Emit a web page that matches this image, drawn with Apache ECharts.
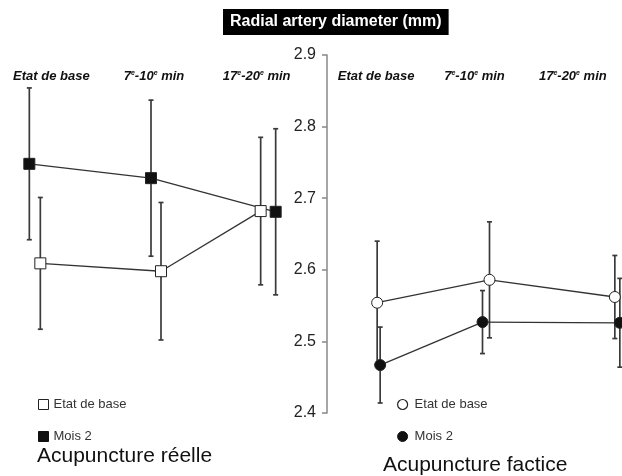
<!DOCTYPE html>
<html>
<head>
<meta charset="utf-8">
<script src="https://cdn.jsdelivr.net/npm/echarts@6/dist/echarts.min.js"></script>
<style>
  html, body { margin: 0; padding: 0; background: #fff; }
  #chart { width: 622px; height: 476px; }
</style>
</head>
<body>
<div id="chart"></div>
<script>
// categories (time points)
const categories = ['Etat de base', '7{s|e}-10{s|e} min', '17{s|e}-20{s|e} min'];
const yTicks = [2.4, 2.5, 2.6, 2.7, 2.8, 2.9];

// Acupuncture réelle
const reelleBase = [2.609, 2.598, 2.682];
const reelleBaseErr = [0.092, 0.096, 0.103];
const reelleMois2 = [2.748, 2.728, 2.681];
const reelleMois2Err = [0.106, 0.109, 0.116];

// Acupuncture factice
const facticeBase = [2.554, 2.586, 2.562];
const facticeBaseErr = [0.086, 0.081, 0.058];
const facticeMois2 = [2.467, 2.527, 2.526];
const facticeMois2Err = [0.053, 0.044, 0.062];

// horizontal nudges (px) so the two groups don't sit on top of each other
const nudge = {
  reelleBase: [-11, 7, 4],
  reelleMois2: [-22, -3, 19],
  facticeBase: [1, 15, 42],
  facticeMois2: [4, 8, 47]
};

const FONT = 'Liberation Sans, Arial, sans-serif';

function errSeries(name, grid, vals, errs, dx, shape, fill) {
  return {
    type: 'custom',
    name: name,
    xAxisIndex: grid,
    yAxisIndex: grid,
    encode: { x: 0, y: 1 },
    data: vals.map((v, i) => [i, v, errs[i]]),
    renderItem: function (params, api) {
      const i = params.dataIndex;
      const v = api.value(1), e = api.value(2);
      const c = api.coord([i, v]);
      const x = c[0] + dx[i], y = c[1];
      const yTop = api.coord([i, v + e])[1];
      const yBot = api.coord([i, v - e])[1];
      const kids = [];
      const barStyle = { stroke: '#3a3a3a', lineWidth: 1.7 };
      kids.push({ type: 'line', shape: { x1: x, y1: yTop, x2: x, y2: yBot }, style: barStyle, z2: 1 });
      kids.push({ type: 'line', shape: { x1: x - 2.5, y1: yTop, x2: x + 2.5, y2: yTop }, style: barStyle, z2: 1 });
      kids.push({ type: 'line', shape: { x1: x - 2.5, y1: yBot, x2: x + 2.5, y2: yBot }, style: barStyle, z2: 1 });
      if (i < vals.length - 1) {
        const n = api.coord([i + 1, vals[i + 1]]);
        kids.push({
          type: 'line',
          shape: { x1: x, y1: y, x2: n[0] + dx[i + 1], y2: n[1] },
          style: { stroke: '#333', lineWidth: 1.3 },
          z2: 2
        });
      }
      const mStyle = { fill: fill, stroke: '#222', lineWidth: 1 };
      if (shape === 'rect') {
        kids.push({ type: 'rect', shape: { x: x - 5.5, y: y - 5.5, width: 11, height: 11 }, style: mStyle, z2: 10 });
      } else {
        kids.push({ type: 'circle', shape: { cx: x, cy: y, r: 5.5 }, style: mStyle, z2: 10 });
      }
      return { type: 'group', children: kids };
    }
  };
}

const chart = echarts.init(document.getElementById('chart'));

const catAxis = (grid) => ({
  type: 'category',
  gridIndex: grid,
  position: 'top',
  offset: -30,
  data: categories,
  axisLine: { show: false },
  axisTick: { show: false },
  axisLabel: {
    interval: 0,
    margin: 2,
    color: '#111',
    fontFamily: FONT,
    fontSize: 13,
    fontStyle: 'italic',
    fontWeight: 'bold',
    rich: {
      s: { fontSize: 7, fontStyle: 'italic', fontWeight: 'bold', color: '#111', fontFamily: FONT, verticalAlign: 'top', padding: [0, 0, 6, 0] }
    }
  }
});

const valAxis = (grid, visible) => ({
  type: 'value',
  gridIndex: grid,
  min: yTicks[0],
  max: yTicks[yTicks.length - 1],
  interval: 0.1,
  show: visible,
  splitLine: { show: false },
  axisLine: { show: true, lineStyle: { color: '#888', width: 1.5 } },
  axisTick: { show: true, length: 5, lineStyle: { color: '#888', width: 1.5 } },
  axisLabel: {
    color: '#222',
    fontFamily: FONT,
    fontSize: 16,
    margin: 11,
    formatter: (v) => v.toFixed(1)
  }
});

const legendText = { color: '#333', fontFamily: FONT, fontSize: 13 };

chart.setOption({
  animation: false,
  title: [
    {
      text: 'Radial artery diameter (mm)',
      left: 223, top: 9,
      padding: [5, 7],
      backgroundColor: '#000',
      textStyle: { color: '#fff', fontFamily: FONT, fontSize: 16, fontWeight: 'bold' }
    },
    {
      text: 'Acupuncture réelle',
      left: 37, top: 446, padding: 0,
      textStyle: { color: '#111', fontFamily: FONT, fontSize: 21, fontWeight: 'normal' }
    },
    {
      text: 'Acupuncture factice',
      left: 383, top: 455, padding: 0,
      textStyle: { color: '#111', fontFamily: FONT, fontSize: 21, fontWeight: 'normal' }
    }
  ],
  legend: [
    {
      orient: 'vertical',
      left: 38, top: 398, padding: 0,
      itemWidth: 10, itemHeight: 10, itemGap: 19,
      selectedMode: false,
      textStyle: legendText,
      data: [
        { name: 'Etat de base', icon: 'rect', itemStyle: { color: '#fff', borderColor: '#222', borderWidth: 1 } },
        { name: 'Mois 2', icon: 'rect', itemStyle: { color: '#111', borderColor: '#111', borderWidth: 1 } }
      ]
    },
    {
      orient: 'vertical',
      left: 397, top: 398, padding: 0,
      itemWidth: 10, itemHeight: 10, itemGap: 19,
      selectedMode: false,
      textStyle: Object.assign({ padding: [0, 0, 0, 2] }, legendText),
      data: [
        { name: 'Etat de base', icon: 'circle', itemStyle: { color: '#fff', borderColor: '#222', borderWidth: 1.2 } },
        { name: 'Mois 2', icon: 'circle', itemStyle: { color: '#111', borderColor: '#111', borderWidth: 1 } }
      ]
    }
  ],
  grid: [
    { left: 0, top: 55, width: 308, height: 358 },
    { left: 327, top: 55, width: 295, height: 358 }
  ],
  xAxis: [catAxis(0), catAxis(1)],
  yAxis: [valAxis(0, false), valAxis(1, true)],
  series: [
    errSeries('Etat de base', 0, reelleBase, reelleBaseErr, nudge.reelleBase, 'rect', '#fff'),
    errSeries('Mois 2', 0, reelleMois2, reelleMois2Err, nudge.reelleMois2, 'rect', '#111'),
    errSeries('Etat de base', 1, facticeBase, facticeBaseErr, nudge.facticeBase, 'circle', '#fff'),
    errSeries('Mois 2', 1, facticeMois2, facticeMois2Err, nudge.facticeMois2, 'circle', '#111')
  ]
});
</script>
</body>
</html>
